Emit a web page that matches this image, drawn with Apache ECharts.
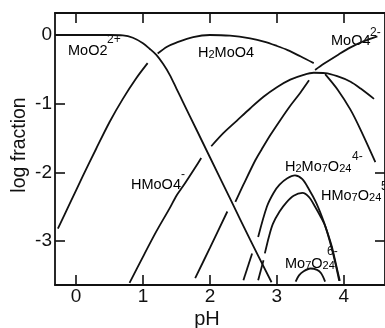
<!DOCTYPE html>
<html><head><meta charset="utf-8">
<script src="https://cdn.jsdelivr.net/npm/echarts@6/dist/echarts.min.js"></script>
<style>html,body{margin:0;padding:0;background:#fff}#c{width:385px;height:328px}</style>
</head><body><div id="c"></div>
<script>
// tick values
const xTicks = [0, 1, 2, 3, 4];
const yTicks = [0, -1, -2, -3];
const yTicksRight = [-2, -3];

// species curves: [pH, log fraction], split into drawn segments (gaps where lines cross)
const moo2 = [
  [[-0.31,0],[0.5,0],[0.7,-0.005],[0.85,-0.04],[1.0,-0.12],[1.1,-0.2],[1.2,-0.29],[1.3,-0.42],[1.4,-0.58],[1.5,-0.78],[1.6,-0.98],[1.8,-1.38],[2.0,-1.78],[2.3,-2.38],[2.6,-2.98],[2.92,-3.6]]
];
const h2moo4 = [
  [[-0.27,-2.82],[-0.1,-2.47],[0.1,-2.06],[0.3,-1.66],[0.5,-1.27],[0.7,-0.93],[0.9,-0.63],[1.07,-0.41]],
  [[1.22,-0.27],[1.36,-0.17],[1.5,-0.11],[1.75,-0.03],[2.0,0],[2.3,-0.01],[2.6,-0.05],[2.82,-0.1],[3.0,-0.16],[3.16,-0.22],[3.35,-0.31],[3.55,-0.41]],
  [[3.72,-0.57],[3.91,-0.8],[4.1,-1.09],[4.25,-1.38],[4.47,-1.85]]
];
const hmoo4 = [
  [[0.8,-3.61],[1.0,-3.23],[1.2,-2.86],[1.4,-2.52],[1.5,-2.34],[1.6,-2.2],[1.8,-1.9],[1.87,-1.79]],
  [[2.02,-1.62],[2.2,-1.43],[2.4,-1.25],[2.6,-1.07],[2.8,-0.9],[3.0,-0.76],[3.2,-0.65],[3.4,-0.58],[3.55,-0.55],[3.72,-0.555],[3.9,-0.6],[4.1,-0.68],[4.25,-0.78],[4.45,-0.93]]
];
const moo4 = [
  [[1.78,-3.54],[2.0,-3.1],[2.26,-2.57]],
  [[2.38,-2.43],[2.5,-2.18],[2.68,-1.82],[2.77,-1.67],[2.9,-1.46],[3.05,-1.24],[3.2,-1.03],[3.35,-0.84],[3.48,-0.66]],
  [[3.57,-0.51],[3.7,-0.42],[3.91,-0.29],[4.1,-0.18],[4.3,-0.09],[4.5,-0.02]]
];
const h2mo7o24 = [
  [[2.5,-3.57],[2.63,-3.18]],
  [[2.72,-2.94],[2.85,-2.5],[2.95,-2.3],[3.04,-2.18],[3.15,-2.09],[3.27,-2.045],[3.38,-2.1],[3.48,-2.25],[3.58,-2.43],[3.67,-2.64],[3.75,-2.86],[3.82,-3.08],[3.88,-3.33],[3.94,-3.58]]
];
const hmo7o24 = [
  [[2.72,-3.57],[2.8,-3.28]],
  [[2.82,-3.18],[2.88,-2.94],[2.94,-2.75],[3.04,-2.57],[3.14,-2.44],[3.25,-2.34],[3.38,-2.3],[3.48,-2.36],[3.57,-2.5],[3.65,-2.64],[3.72,-2.78],[3.8,-3.04],[3.87,-3.31],[3.93,-3.58]]
];
const mo7o24 = [
  [[3.28,-3.59],[3.33,-3.5],[3.4,-3.44],[3.5,-3.4],[3.6,-3.42],[3.66,-3.47],[3.72,-3.59]]
];

const speciesNames = ['MoO2 2+','H2MoO4','HMoO4-','MoO4 2-','H2Mo7O24 4-','HMo7O24 5-','Mo7O24 6-'];
const speciesData = [moo2, h2moo4, hmoo4, moo4, h2mo7o24, hmo7o24, mo7o24];

const FONT = 'Liberation Sans';
const INK = '#111';

const series = [];
speciesData.forEach((segs, i) => {
  segs.forEach(seg => {
    series.push({
      type: 'line', name: speciesNames[i], data: seg,
      xAxisIndex: 0, yAxisIndex: 0,
      showSymbol: false, smooth: 0.3, silent: true,
      lineStyle: { color: INK, width: 1.8 }
    });
  });
});

function axisCommon(extra) {
  return Object.assign({
    type: 'value',
    axisLine: { show: true, onZero: false, lineStyle: { color: INK, width: 1.8 } },
    splitLine: { show: false }
  }, extra);
}
const tickStyle = { color: INK, width: 1.6 };

// rich styles: normal, subscript
const rich = {
  n: { fontFamily: FONT, fontSize: 14.5, lineHeight: 20, color: INK, verticalAlign: 'bottom' },
  b: { fontFamily: FONT, fontSize: 11, lineHeight: 14, color: INK, verticalAlign: 'bottom' }
};
function lab(x, yc, text) {
  return { type: 'text', x: x, y: yc - 10, silent: true,
    style: { text: text, rich: rich, align: 'left', verticalAlign: 'top' } };
}
function sup(x, yc, text) {
  return { type: 'text', x: x, y: yc, silent: true,
    style: { text: text, fontFamily: FONT, fontSize: 12, fill: INK, align: 'left', verticalAlign: 'middle' } };
}

const chart = echarts.init(document.getElementById('c'), null, { renderer: 'canvas' });
chart.setOption({
  animation: false,
  backgroundColor: '#fff',
  grid: { left: 55, right: -8, top: 13, bottom: 43, containLabel: false },
  xAxis: [
    axisCommon({ position: 'bottom', min: -0.313, max: 4.614,
      axisTick: { show: true, inside: true, length: 10, customValues: xTicks, lineStyle: tickStyle },
      axisLabel: { show: true, customValues: xTicks, fontSize: 19, fontFamily: FONT, color: INK, margin: 2 } }),
    axisCommon({ position: 'top', min: -0.313, max: 4.614,
      axisTick: { show: true, inside: true, length: 10, customValues: xTicks, lineStyle: tickStyle },
      axisLabel: { show: false } })
  ],
  yAxis: [
    axisCommon({ position: 'left', min: -3.64, max: 0.32,
      axisTick: { show: true, inside: true, length: 10, customValues: yTicks, lineStyle: tickStyle },
      axisLabel: { show: true, customValues: yTicks, fontSize: 19, fontFamily: FONT, color: INK, margin: 3 } }),
    axisCommon({ position: 'right', min: -3.64, max: 0.32,
      axisTick: { show: true, inside: true, length: 10, customValues: yTicksRight, lineStyle: tickStyle },
      axisLabel: { show: false } })
  ],
  series: series,
  graphic: [
    { type: 'text', x: 207, y: 319, silent: true,
      style: { text: 'pH', fontFamily: FONT, fontSize: 20, fill: INK, align: 'center', verticalAlign: 'middle' } },
    { type: 'text', x: 20, y: 145, rotation: Math.PI / 2, silent: true,
      style: { text: 'log fraction', fontFamily: FONT, fontSize: 19.5, fill: INK, align: 'center', verticalAlign: 'middle' } },
    lab(68, 48, '{n|MoO2}'), sup(107, 40, '2+'),
    lab(331, 38, '{n|MoO4}'), sup(370, 33, '2-'),
    lab(198, 50, '{n|H}{b|2}{n|MoO4}'),
    lab(131, 182, '{n|HMoO4}'), sup(181, 175, '-'),
    lab(285, 164, '{n|H}{b|2}{n|Mo}{b|7}{n|O}{b|24}'), sup(352, 157, '4-'),
    lab(321, 193, '{n|HMo}{b|7}{n|O}{b|24}'), sup(381, 187, '5-'),
    lab(285, 261, '{n|Mo}{b|7}{n|O}{b|24}'), sup(327, 252, '6-')
  ]
});
</script></body></html>
